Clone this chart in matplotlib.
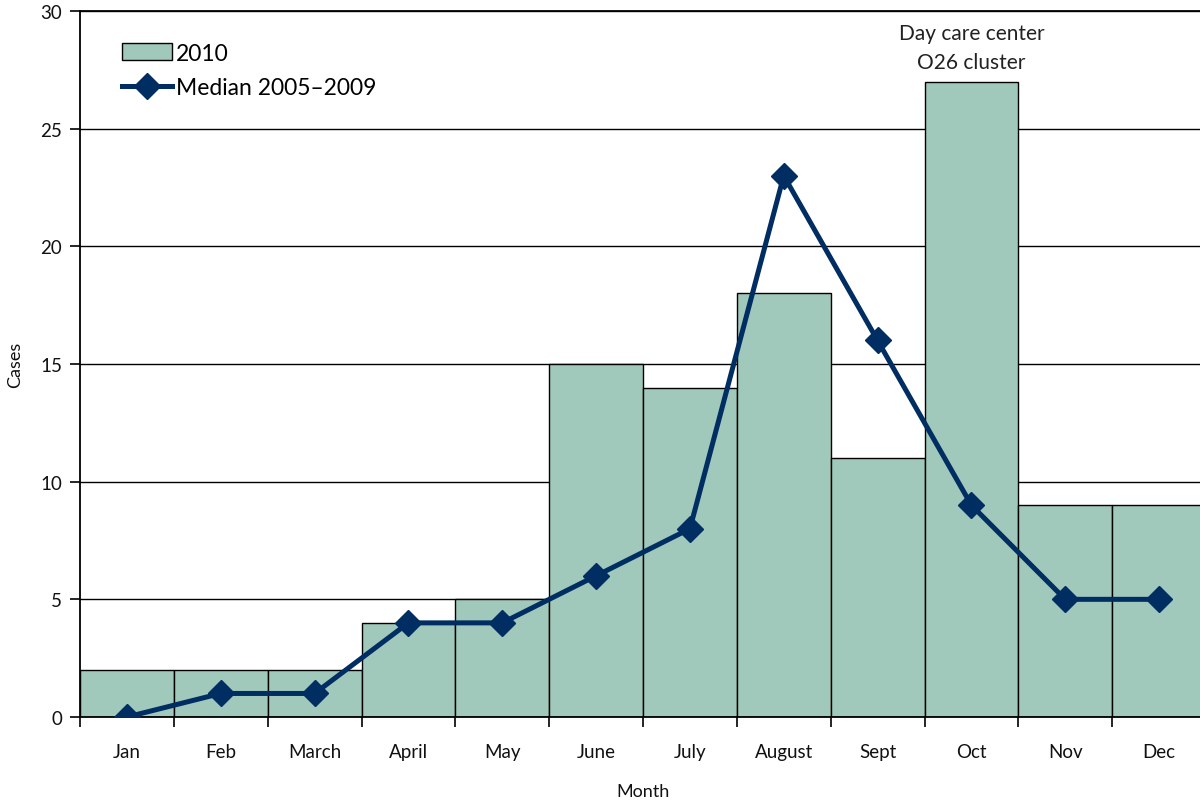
import matplotlib
matplotlib.use("Agg")
import matplotlib.pyplot as plt
from matplotlib.lines import Line2D
from matplotlib.patches import Patch
import numpy as np

months = ["Jan", "Feb", "March", "April", "May", "June", "July",
          "August", "Sept", "Oct", "Nov", "Dec"]
cases_2010 = [2, 2, 2, 4, 5, 15, 14, 18, 11, 27, 9, 9]
median_2005_2009 = [0, 1, 1, 4, 4, 6, 8, 23, 16, 9, 5, 5]
y_ticks = [0, 5, 10, 15, 20, 25, 30]

plt.rcParams['font.family'] = ['Lato', 'DejaVu Sans']

bar_color = "#A0C8BB"
line_color = "#002D62"

fig = plt.figure(figsize=(12, 8.03), dpi=100)
ax = fig.add_axes([80 / 1200, 1 - 718 / 803, 1126 / 1200, (718 - 12) / 803])

x = np.arange(len(months))
ax.set_axisbelow(True)
ax.yaxis.grid(True, color="black", linewidth=1.0)
ax.bar(x, cases_2010, width=1.0, color=bar_color, edgecolor="black",
       linewidth=1.0, zorder=2)
ax.plot(x, median_2005_2009, color=line_color, linewidth=3.6,
        marker="D", markersize=13, zorder=3)

ax.set_xlim(-0.5, len(months) - 0.5)
ax.set_ylim(0, 30)
ax.set_yticks(y_ticks)
ax.tick_params(axis="y", direction="out", length=7, width=1.2,
               labelsize=13.5, pad=6, labelcolor="#111111")

# month labels centred under bars, tick marks on the bar boundaries
ax.set_xticks(x)
ax.set_xticklabels(months)
ax.tick_params(axis="x", which="major", length=0, labelsize=13.5, pad=19,
               labelcolor="#111111")
ax.set_xticks(np.arange(-0.5, len(months), 1.0), minor=True)
ax.tick_params(axis="x", which="minor", direction="out", length=7, width=1.2)

for side in ["left", "bottom", "top", "right"]:
    ax.spines[side].set_linewidth(1.3)
    ax.spines[side].set_color("black")

ax.set_ylabel("Cases", fontsize=13, labelpad=12, color="#111111")
ax.set_xlabel("Month", fontsize=13, labelpad=16, color="#111111")

ax.text(9, 27.4, "Day care center\nO26 cluster", ha="center", va="bottom",
        fontsize=15, color="#222222", linespacing=1.55)

handles = [
    Patch(facecolor=bar_color, edgecolor="black", linewidth=1.0),
    Line2D([0], [0], color=line_color, linewidth=3.6, marker="D",
           markersize=13),
]
ax.legend(handles, ["2010", "Median 2005\u20132009"], loc="upper left",
          bbox_to_anchor=(0.023, 0.978), frameon=False, fontsize=16.5,
          handlelength=2.2, handleheight=0.75, handletextpad=0.15,
          labelspacing=0.6, borderaxespad=0.3)

fig.savefig("out.png", dpi=100)
